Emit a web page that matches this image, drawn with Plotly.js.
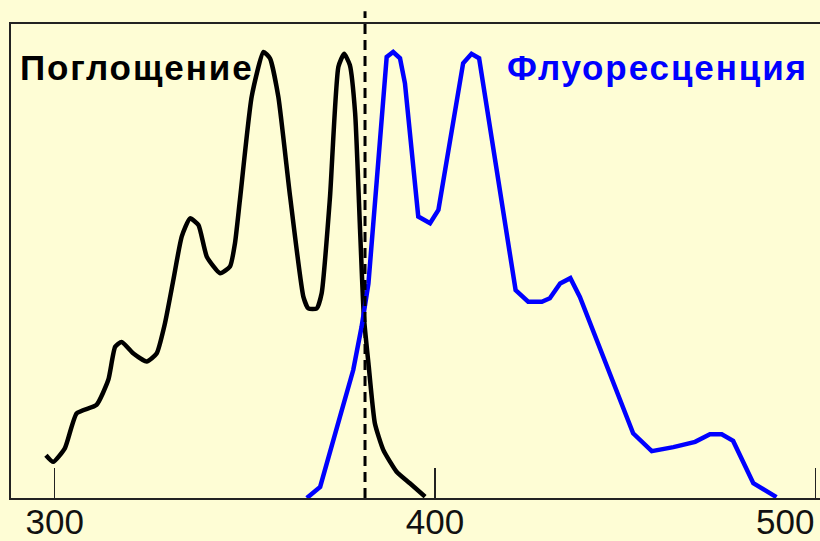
<!DOCTYPE html>
<html>
<head>
<meta charset="utf-8">
<script src="https://cdn.plot.ly/plotly-3.0.1.min.js"></script>
<style>
html,body{margin:0;padding:0;background:#FEFDD5;}
.annotation-text{letter-spacing:1.9px;}
</style>
</head>
<body>
<div id="chart" style="width:820px;height:541px;"></div>
<script>
// Absorption spectrum (black): wavelength (nm) and relative intensity
const absWavelength = [297.7, 299.6, 302.7, 305.8, 311.0, 314.1, 315.9, 317.6, 320.7, 324.2, 326.8, 329.0, 331.2, 333.4, 335.6, 337.8, 340.0, 343.5, 346.1, 347.4, 348.7, 351.8, 354.9, 356.6, 358.8, 361.9, 365.4, 366.7, 368.9, 370.2, 372.4, 374.6, 376.1, 377.6, 379.0, 380.3, 381.3, 382.5, 384.2, 386.4, 389.9, 393.4, 397.4];
const absIntensity  = [0.096, 0.081, 0.112, 0.190, 0.209, 0.265, 0.339, 0.350, 0.324, 0.306, 0.324, 0.392, 0.489, 0.586, 0.627, 0.612, 0.541, 0.504, 0.519, 0.571, 0.668, 0.900, 1.000, 0.986, 0.900, 0.676, 0.451, 0.425, 0.425, 0.459, 0.676, 0.967, 0.996, 0.971, 0.863, 0.601, 0.406, 0.302, 0.167, 0.108, 0.059, 0.033, 0.003];

// Fluorescence spectrum (blue)
const fluWavelength = [366.3, 369.8, 375.0, 378.5, 380.7, 382.5, 384.7, 387.3, 389.0, 390.8, 392.1, 395.6, 398.7, 400.9, 407.4, 409.6, 411.6, 421.2, 424.5, 428.1, 430.2, 432.9, 435.6, 438.1, 452.1, 457.0, 462.7, 468.4, 472.3, 475.4, 478.4, 483.7, 489.8];
const fluIntensity  = [0.000, 0.025, 0.182, 0.287, 0.384, 0.481, 0.713, 0.989, 1.000, 0.986, 0.930, 0.631, 0.616, 0.646, 0.975, 0.996, 0.986, 0.466, 0.440, 0.440, 0.448, 0.481, 0.493, 0.451, 0.145, 0.105, 0.114, 0.126, 0.143, 0.143, 0.128, 0.033, 0.002];

// Crossing wavelength (dashed marker)
const crossWavelength = 381.6;

// Axis ticks and labels
const tickValues = [300, 400];
const tickLabels = ["300", "400"];
const edgeTickValues = [500];          // last tick: label sits left of its tick
const edgeTickLabels = ["500"];
const absLabel = "Поглощение";
const fluLabel = "Флуоресценция";

const xRange = [288.51, 501.24];

const traces = [
  {x: absWavelength, y: absIntensity, xaxis: 'x', yaxis: 'y', mode: 'lines',
   line: {color: '#000000', width: 4.5, shape: 'spline', smoothing: 0.5}, hoverinfo: 'skip'},
  {x: fluWavelength, y: fluIntensity, xaxis: 'x2', yaxis: 'y', mode: 'lines',
   line: {color: '#0000FF', width: 4.5}, hoverinfo: 'skip'}
];

const tickFont = {size: 35, color: '#111', family: 'Liberation Sans, Arial, sans-serif'};

const layout = {
  width: 820, height: 541,
  margin: {l: 11, r: 0, t: 24, b: 43},
  paper_bgcolor: '#FEFDD5',
  plot_bgcolor: '#FEFDD5',
  showlegend: false,
  font: {family: 'Liberation Sans, Arial, sans-serif', color: '#000'},
  xaxis: {
    range: xRange,
    tickvals: tickValues, ticktext: tickLabels,
    ticks: 'inside', ticklen: 30, tickwidth: 1.5, tickcolor: '#222',
    ticklabelstandoff: -8,
    showgrid: false, zeroline: false,
    showline: true, linecolor: '#222', linewidth: 2, mirror: true,
    tickfont: tickFont
  },
  xaxis2: {
    overlaying: 'x', side: 'bottom', anchor: 'y',
    range: xRange,
    tickvals: edgeTickValues, ticktext: edgeTickLabels,
    ticks: 'inside', ticklen: 30, tickwidth: 1.5, tickcolor: '#222',
    ticklabelposition: 'outside left', ticklabelstandoff: 0,
    showgrid: false, zeroline: false, showline: false,
    tickfont: tickFont
  },
  yaxis: {
    range: [0, 1.0628],
    showticklabels: false, ticks: '', showgrid: false, zeroline: false,
    showline: true, linecolor: '#222', linewidth: 2
  },
  shapes: [
    {type: 'line', xref: 'x', yref: 'paper', x0: crossWavelength, x1: crossWavelength, y0: 0, y1: 1.027,
     line: {color: '#000', width: 3, dash: '10px,6px'}}
  ],
  annotations: [
    {x: 290.35, y: 0.965, xref: 'x', yref: 'y', xanchor: 'left', yanchor: 'middle', showarrow: false,
     text: '<b>' + absLabel + '</b>', font: {size: 35, color: '#000', family: 'Liberation Sans, Arial, sans-serif'}},
    {x: 418.4, y: 0.965, xref: 'x', yref: 'y', xanchor: 'left', yanchor: 'middle', showarrow: false,
     text: '<b>' + fluLabel + '</b>', font: {size: 35, color: '#0000FF', family: 'Liberation Sans, Arial, sans-serif'}}
  ]
};

Plotly.newPlot('chart', traces, layout, {staticPlot: true, displayModeBar: false});
</script>
</body>
</html>
